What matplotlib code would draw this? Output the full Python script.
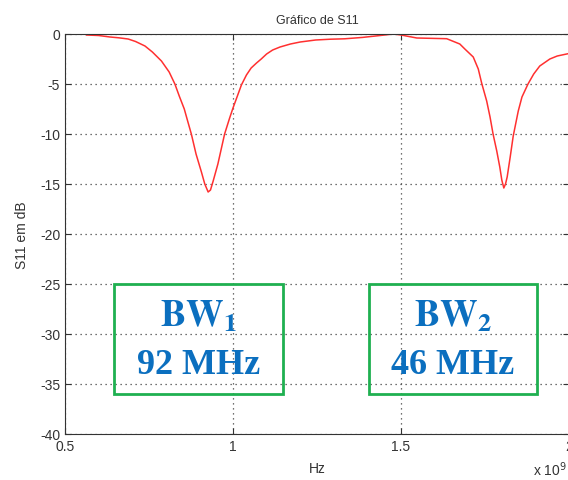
import matplotlib
matplotlib.use('Agg')
import matplotlib.pyplot as plt
from matplotlib.patches import Rectangle

# S11 curve (frequency in units of 1e9 Hz)
freq = [0.564, 0.600, 0.634, 0.660, 0.688, 0.710, 0.738, 0.760, 0.787, 0.810,
        0.827, 0.840, 0.855, 0.865, 0.876, 0.890, 0.906, 0.916, 0.926, 0.933,
        0.941, 0.955, 0.975, 0.990, 1.000, 1.025, 1.040, 1.054, 1.070, 1.084,
        1.100, 1.118, 1.140, 1.171, 1.200, 1.246, 1.290, 1.332, 1.386, 1.438,
        1.477, 1.500, 1.547, 1.636, 1.675, 1.690, 1.715, 1.730, 1.740, 1.755,
        1.765, 1.774, 1.785, 1.794, 1.800, 1.806, 1.811, 1.816, 1.825, 1.834,
        1.849, 1.860, 1.878, 1.895, 1.913, 1.943, 1.965, 1.993, 2.000]
s11_db = [-0.10, -0.15, -0.30, -0.38, -0.50, -0.75, -1.20, -1.80, -2.70, -3.80,
          -5.00, -6.20, -7.50, -8.70, -10.0, -12.0, -13.8, -15.0, -15.8, -15.6,
          -14.7, -13.0, -10.0, -8.40, -7.40, -5.10, -4.10, -3.40, -2.90, -2.50,
          -2.00, -1.60, -1.30, -1.00, -0.80, -0.60, -0.52, -0.48, -0.34, -0.15,
          0.00, -0.10, -0.40, -0.47, -1.00, -1.50, -2.30, -3.50, -4.90, -6.70,
          -8.30, -10.0, -11.7, -13.3, -14.6, -15.4, -15.0, -14.3, -12.3, -10.2,
          -7.70, -6.30, -5.00, -4.00, -3.20, -2.50, -2.20, -2.00, -1.95]

xticks = [0.5, 1, 1.5, 2]
xtick_labels = ['0.5', '1', '1.5', '2']
yticks = [0, -5, -10, -15, -20, -25, -30, -35, -40]

# annotation boxes: (label, bandwidth text, x range, y range)
boxes = [(r'$\mathbf{BW_1}$', '92 MHz', (0.645, 1.15), (-25, -36)),
         (r'$\mathbf{BW_2}$', '46 MHz', (1.405, 1.905), (-25, -36))]

plt.rcParams['font.family'] = ['Liberation Sans', 'DejaVu Sans']
plt.rcParams['mathtext.fontset'] = 'stix'
plt.rcParams['axes.unicode_minus'] = False

fig = plt.figure(figsize=(5.68, 4.81), dpi=100)
ax = fig.add_axes([65/568, 46/481, 504/568, 400/481])

ax.plot(freq, s11_db, color='#ff3030', lw=1.1)
ax.set_xlim(0.5, 2)
ax.set_ylim(-40, 0)
ax.set_xticks(xticks)
ax.set_xticklabels(xtick_labels)
ax.set_yticks(yticks)
ax.tick_params(direction='in', top=True, right=True, labelsize=10, length=4,
               color='#333333', labelcolor='#333333')
ax.grid(True, color='#444444', linestyle=(0, (1, 3)), linewidth=0.9)
for sp in ax.spines.values():
    sp.set_color('#333333')

ax.set_title('Gráfico de S11', fontsize=9, color='#333333', pad=8)
ax.set_xlabel('Hz', fontsize=10, color='#333333', labelpad=6)
ax.set_ylabel('S11 em dB', fontsize=10, color='#333333', labelpad=8)
fig.text(533/568, 1 - 470/481, r'x 10$^9$', fontsize=10, color='#333333',
         va='center', ha='left', math_fontfamily='dejavusans')

for lab, bw, (x0, x1), (y0, y1) in boxes:
    ax.add_patch(Rectangle((x0, y1), x1 - x0, y0 - y1, fill=False,
                           edgecolor='#1fb050', lw=2.0, zorder=3))
    xc = (x0 + x1) / 2
    ax.text(xc, -29.2, lab, fontsize=27, color='#0b6fbf', ha='center', va='baseline')
    ax.text(xc, -33.9, bw, fontsize=26, color='#0b6fbf', ha='center', va='baseline',
            family='Liberation Serif', weight='bold')

fig.savefig('out.png', dpi=100)
